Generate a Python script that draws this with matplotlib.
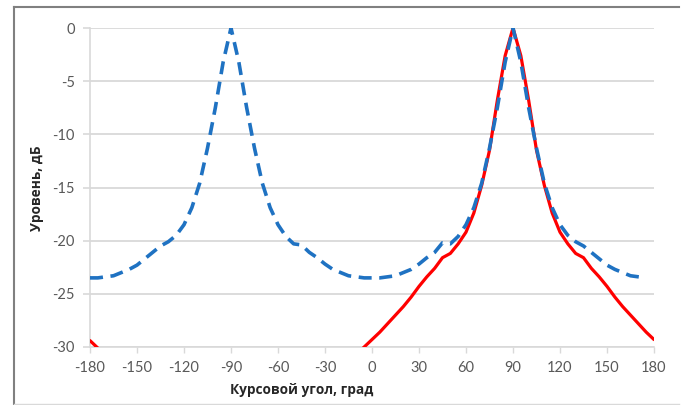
import numpy as np
import matplotlib
matplotlib.use("Agg")
import matplotlib.pyplot as plt
from matplotlib.lines import Line2D

# ---- data ----
angles_blue = list(range(-180, 180, 5))  # -180 .. 175
level_blue = [
    -23.5, -23.5, -23.4, -23.3, -23.0, -22.7, -22.3, -21.7, -21.1, -20.5,
    -20.1, -19.5, -18.5, -16.9, -14.6, -11.3, -7.5, -3.2, 0.0,
    -3.2, -7.5, -11.3, -14.6, -16.9, -18.5, -19.6, -20.3, -20.4, -21.1,
    -21.6, -22.2, -22.7, -23.0, -23.3, -23.4, -23.5,
    -23.5, -23.5, -23.4, -23.3, -23.0, -22.7, -22.2, -21.6, -21.1, -20.2,
    -20.3, -19.6, -18.5, -16.9, -14.6, -11.3, -7.5, -3.2, 0.0,
    -3.2, -7.5, -11.3, -14.6, -16.9, -18.5, -19.5, -20.1, -20.5, -21.1,
    -21.7, -22.3, -22.7, -23.0, -23.3, -23.4, -23.5,
]

angles_red_a = [-180, -175]
level_red_a = [-29.4, -30.1]

angles_red_b = list(range(-10, 185, 5))  # -10 .. 180
level_red_b = [
    -30.7, -30.0, -29.3, -28.6, -27.8, -27.0, -26.2, -25.3, -24.3, -23.4,
    -22.6, -21.6, -21.2, -20.3, -19.2, -17.4, -14.8, -11.5, -6.8, -2.6, 0.0,
    -2.6, -6.8, -11.5, -14.8, -17.4, -19.2, -20.3, -21.2, -21.6, -22.6,
    -23.4, -24.3, -25.3, -26.2, -27.0, -27.8, -28.6, -29.3,
]

xticks = list(range(-180, 181, 30))
yticks = list(range(-30, 1, 5))

# ---- figure ----
W, H = 687, 405
fig = plt.figure(figsize=(W / 100, H / 100), dpi=100)
ax = fig.add_axes([90 / W, 1 - 347 / H, (654 - 90) / W, (347 - 28) / H])

grid_c = "#d9d9d9"
tick_c = "#595959"
font = ["Lato", "DejaVu Sans"]
lab_font = ["Open Sans", "DejaVu Sans"]

ax.plot(angles_red_a, level_red_a, color="#ff0000", lw=2.3, solid_capstyle="round", zorder=3)
ax.plot(angles_red_b, level_red_b, color="#ff0000", lw=2.3, solid_capstyle="round", zorder=3)
ax.plot(angles_blue, level_blue, color="#1f72c2", lw=2.6, dashes=(3.6, 2.1), zorder=4)

ax.set_xlim(-180, 180)
ax.set_ylim(-30, 0)
ax.set_xticks(xticks)
ax.set_yticks(yticks)
ax.set_xticklabels([str(v) for v in xticks], family=font, fontsize=10.5, color=tick_c)
ax.set_yticklabels([str(v) for v in yticks], family=font, fontsize=10.5, color=tick_c)

for s in ["top", "right"]:
    ax.spines[s].set_visible(False)
for s in ["left", "bottom"]:
    ax.spines[s].set_color(grid_c)
    ax.spines[s].set_linewidth(1.2)
ax.tick_params(axis="x", direction="out", length=4, width=1.0, color=grid_c, pad=6)
ax.tick_params(axis="y", direction="out", length=5, width=1.2, color=grid_c, pad=6)
ax.yaxis.grid(True, color=grid_c, lw=1.3)
ax.set_axisbelow(True)

fig.text(302 / W, 1 - 390 / H, "Курсовой угол, град", family=lab_font,
         fontsize=9.8, fontweight="bold", color="#262626", ha="center", va="center")
fig.text(37 / W, 1 - 188 / H, "Уровень, дБ", family=lab_font, rotation=90,
         fontsize=9.8, fontweight="bold", color="#262626", ha="center", va="center")

# outer frame
fig.add_artist(Line2D([14 / W, 679 / W], [1 - 7 / H, 1 - 7 / H], transform=fig.transFigure,
                      color="#808080", lw=1.5))
fig.add_artist(Line2D([14 / W, 14 / W], [1 - 7 / H, 1 - 404 / H], transform=fig.transFigure,
                      color="#808080", lw=1.5))
fig.add_artist(Line2D([14 / W, 679 / W], [1 - 404 / H, 1 - 404 / H], transform=fig.transFigure,
                      color="#d9d9d9", lw=1.0))

fig.savefig("out.png", dpi=100)
